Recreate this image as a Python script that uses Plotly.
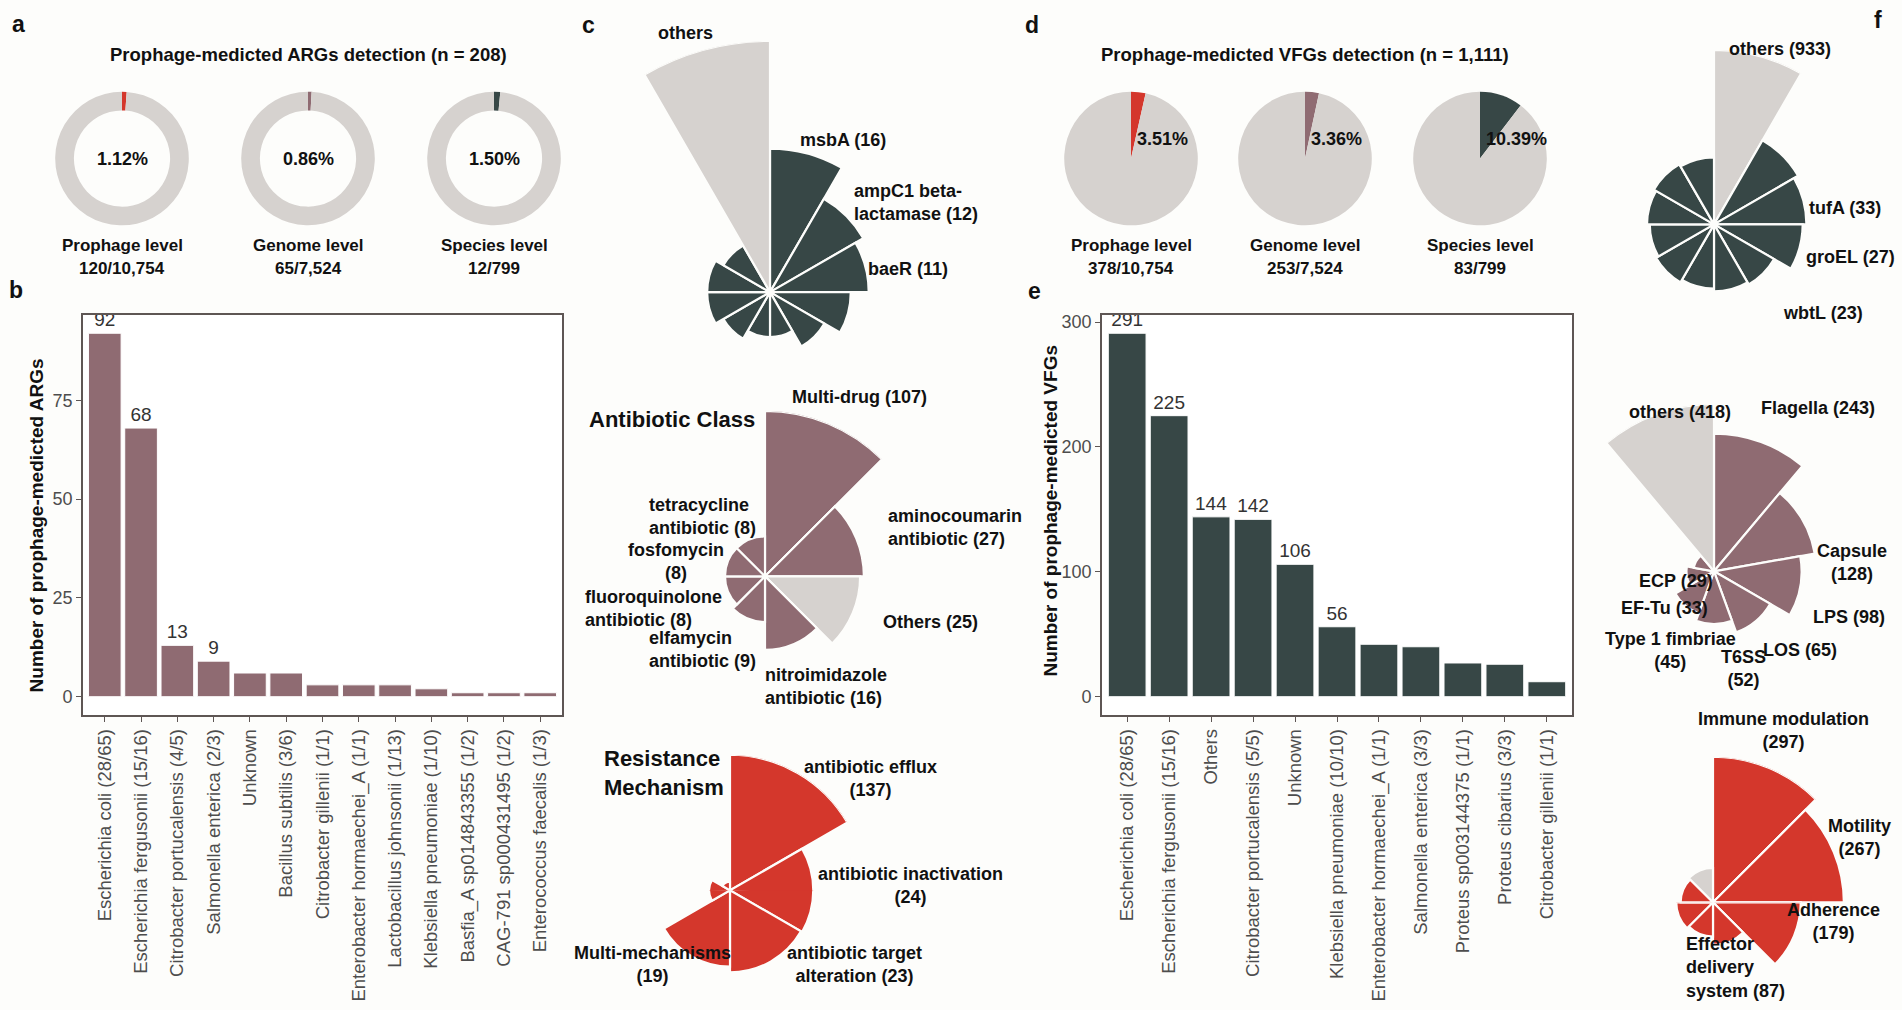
import math
import plotly.graph_objects as go

W, H = 1902, 1010
BG = "#FDFDFB"
RED = "#D4372C"
MAUVE = "#8F6B72"
DARK = "#374746"
GREY = "#D6D2CF"
AXIS = "#5E5654"
TICKTXT = "#4D4D4D"
FONT = "Arial, Liberation Sans, Helvetica, sans-serif"

# ---------------- data ----------------
level_names = ["Prophage level", "Genome level", "Species level"]
level_totals = [10754, 7524, 799]
arg_level_hits = [120, 65, 12]
vfg_level_hits = [378, 253, 83]

arg_species = [
    "Escherichia coli (28/65)", "Escherichia fergusonii (15/16)",
    "Citrobacter portucalensis (4/5)", "Salmonella enterica (2/3)", "Unknown",
    "Bacillus subtilis (3/6)", "Citrobacter gillenii (1/1)",
    "Enterobacter hormaechei_A (1/1)", "Lactobacillus johnsonii (1/13)",
    "Klebsiella pneumoniae (1/10)", "Basfia_A sp014843355 (1/2)",
    "CAG-791 sp000431495 (1/2)", "Enterococcus faecalis (1/3)",
]
arg_counts = [92, 68, 13, 9, 6, 6, 3, 3, 3, 2, 1, 1, 1]

vfg_species = [
    "Escherichia coli (28/65)", "Escherichia fergusonii (15/16)", "Others",
    "Citrobacter portucalensis (5/5)", "Unknown", "Klebsiella pneumoniae (10/10)",
    "Enterobacter hormaechei_A (1/1)", "Salmonella enterica (3/3)",
    "Proteus sp003144375 (1/1)", "Proteus cibarius (3/3)", "Citrobacter gillenii (1/1)",
]
vfg_counts = [291, 225, 144, 142, 106, 56, 42, 40, 27, 26, 12]

arg_genes = ["msbA", "ampC1 beta-lactamase", "baeR", "gene 4", "gene 5", "gene 6",
             "gene 7", "gene 8", "gene 9", "gene 10", "gene 11", "others"]
arg_gene_counts = [16, 12, 11, 9, 7, 5, 5, 6, 7, 7, 6, 28]

arg_classes = ["Multi-drug", "aminocoumarin antibiotic", "Others",
               "nitroimidazole antibiotic", "elfamycin antibiotic",
               "fluoroquinolone antibiotic", "fosfomycin", "tetracycline antibiotic"]
arg_class_counts = [107, 27, 25, 16, 9, 8, 8, 8]

arg_mechs = ["antibiotic efflux", "antibiotic inactivation",
             "antibiotic target alteration", "Multi-mechanisms",
             "other mechanism 1", "other mechanism 2"]
arg_mech_counts = [137, 24, 23, 19, 3, 2]

vfg_genes = ["others", "tufA", "groEL", "wbtL", "gene 5", "gene 6", "gene 7",
             "gene 8", "gene 9", "gene 10", "gene 11", "gene 12"]
vfg_gene_counts = [933, 33, 27, 23, 10, 9, 8, 9, 8, 9, 10, 9]

vfg_classes = ["Flagella", "Capsule", "LPS", "LOS", "T6SS", "Type 1 fimbriae",
               "EF-Tu", "ECP", "others"]
vfg_class_counts = [243, 128, 98, 65, 52, 45, 33, 29, 418]

vfg_cats = ["Immune modulation", "Motility", "Adherence", "Effector delivery system",
            "category 5", "category 6", "category 7", "others"]
vfg_cat_counts = [297, 267, 179, 87, 70, 75, 66, 70]

# ---------------- helpers ----------------
fig = go.Figure()
annotations = []
polar_layouts = {}
pcount = [0]


def X(px):
    return min(1.0, max(0.0, px / W))


def Y(py):
    return min(1.0, max(0.0, 1 - py / H))


def ann(text, px, py, size=18, bold=True, xanchor="center", align=None,
        color="#111111", angle=0):
    if align is None:
        align = {"left": "left", "right": "right"}.get(xanchor, "center")
    annotations.append(dict(
        text=text, x=X(px), y=Y(py), xref="paper", yref="paper", showarrow=False,
        xanchor=xanchor, yanchor="middle", align=align, textangle=angle,
        font=dict(size=size, color=color, family=FONT,
                  weight="bold" if bold else "normal")))


def new_polar(domx, domy, sector, scale, rng):
    pcount[0] += 1
    name = "polar" if pcount[0] == 1 else f"polar{pcount[0]}"
    polar_layouts[name] = dict(
        domain=dict(x=domx, y=domy), sector=sector, bgcolor="rgba(0,0,0,0)", hole=0,
        angularaxis=dict(visible=False, direction="clockwise", rotation=90),
        radialaxis=dict(visible=False, type=scale, range=rng))
    return name


def add_rose(names, counts, color, cx, cy, R, scale="log", r0=1.0):
    """Coxcomb: one equal-angle wedge per category, clockwise from 12 o'clock."""
    n = len(names)
    step = 360.0 / n
    theta = [(i + 0.5) * step for i in range(n)]
    cols = [GREY if nm.lower() == "others" else color for nm in names]
    vmax = max(counts)
    if scale == "log":
        lo, hi = math.log10(r0), math.log10(vmax)
        base = r0
        r = [c - r0 for c in counts]
    else:
        lo, hi = 0.0, float(vmax)
        base = 0
        r = list(counts)
    parts = []
    if cy + R <= H:
        parts.append(([cx - R, cx + R], [cy + R, cy - R], [0, 360], hi))
    else:
        # split into an upper (slightly more than half) and a lower half-disc,
        # both sharing the same radial scale, so the rose fits in the page
        ov = 2.0
        below = math.sin(math.radians(ov)) * R
        parts.append(([cx - R, cx + R], [cy + below, cy - R], [-ov, 180 + ov], hi))
        R2 = H - cy - 1
        hi2 = lo + (hi - lo) * R2 / R
        parts.append(([cx - R2, cx + R2], [cy + R2, cy], [180, 360], hi2))
    for px_x, px_y, sector, top in parts:
        name = new_polar([X(px_x[0]), X(px_x[1])], [Y(px_y[0]), Y(px_y[1])],
                         sector, scale, [lo, top])
        fig.add_trace(go.Barpolar(
            r=r, theta=theta, width=[step] * n, base=base,
            marker=dict(color=cols, line=dict(color=BG, width=2.2)),
            subplot=name, hoverinfo="skip", showlegend=False))


# ---------------- panels a & d: pies ----------------
level_colors = [RED, MAUVE, DARK]
PIE_CY, PIE_R = 156, 67
pie_cx_a = [122, 308, 494]
pie_cx_d = [1131, 1305, 1480]
for i in range(3):
    for cxs, hits, hole in ((pie_cx_a, arg_level_hits, 0.72), (pie_cx_d, vfg_level_hits, 0)):
        cx = cxs[i]
        fig.add_trace(go.Pie(
            values=[hits[i], level_totals[i] - hits[i]],
            domain=dict(x=[X(cx - PIE_R), X(cx + PIE_R)], y=[Y(PIE_CY + PIE_R), Y(PIE_CY - PIE_R)]),
            hole=hole, sort=False, direction="counterclockwise", rotation=0,
            marker=dict(colors=[level_colors[i], GREY], line=dict(width=0)),
            textinfo="none", hoverinfo="skip", showlegend=False))
        pct = 100.0 * hits[i] / level_totals[i]
        if hole > 0:
            ann(f"{pct:.2f}%", cx, PIE_CY, size=18)
        else:
            ann(f"{pct:.2f}%", cx + 4, 136, size=18, xanchor="left")
        ann(level_names[i], cx, 243, size=17)
        ann(f"{hits[i]}/{level_totals[i]:,}", cx, 266, size=17)

ann(f"Prophage-medicted ARGs detection (n = {sum(arg_counts)})", 308, 52, size=18.5)
ann(f"Prophage-medicted VFGs detection (n = {sum(vfg_counts):,})", 1305, 52, size=18.5)

# ---------------- panels b & e: bars ----------------
fig.add_trace(go.Bar(
    x=arg_species, y=arg_counts, width=0.9,
    marker=dict(color=MAUVE, line=dict(color="white", width=1)),
    text=[str(v) if v >= 9 else "" for v in arg_counts], textposition="outside",
    textfont=dict(size=19, color="#333333", family=FONT), cliponaxis=False,
    constraintext="none", xaxis="x", yaxis="y", hoverinfo="skip", showlegend=False))
fig.add_trace(go.Bar(
    x=vfg_species, y=vfg_counts, width=0.9,
    marker=dict(color=DARK, line=dict(color="white", width=1)),
    text=[str(v) if v >= 50 else "" for v in vfg_counts], textposition="outside",
    textfont=dict(size=19, color="#333333", family=FONT), cliponaxis=False,
    constraintext="none", xaxis="x2", yaxis="y2", hoverinfo="skip", showlegend=False))

axis_common = dict(showline=True, linecolor=AXIS, linewidth=1.6, mirror=True,
                   ticks="outside", ticklen=5, tickwidth=1.4, tickcolor=AXIS,
                   showgrid=False, zeroline=False, fixedrange=True,
                   tickfont=dict(size=18, color=TICKTXT, family=FONT))
BOX_TOP, BOX_BOT = 313, 714
XTICKFONT = dict(size=18.5, color=TICKTXT, family=FONT)


def ypad(vmax):
    return [-0.05 * vmax, 1.05 * vmax]


xa = dict(axis_common, domain=[X(83), X(562)], anchor="y", type="category",
          range=[-0.6, len(arg_species) - 0.4], tickmode="array",
          tickvals=arg_species, ticktext=arg_species, tickangle=-90, tickfont=XTICKFONT)
ya = dict(axis_common, domain=[Y(BOX_BOT), Y(BOX_TOP)], anchor="x",
          range=ypad(max(arg_counts)), tickmode="array", tickvals=[0, 25, 50, 75])
xa2 = dict(axis_common, domain=[X(1102), X(1572)], anchor="y2", type="category",
           range=[-0.6, len(vfg_species) - 0.4], tickmode="array",
           tickvals=vfg_species, ticktext=vfg_species, tickangle=-90, tickfont=XTICKFONT)
ya2 = dict(axis_common, domain=[Y(BOX_BOT), Y(BOX_TOP)], anchor="x2",
           range=ypad(max(vfg_counts)), tickmode="array", tickvals=[0, 100, 200, 300])

ann("Number of prophage-medicted ARGs", 36, 524, size=19, angle=-90)
ann("Number of prophage-medicted VFGs", 1050, 510, size=19, angle=-90)

# ---------------- panel c: roses ----------------
add_rose(arg_genes, arg_gene_counts, DARK, 770, 290, 252, scale="linear")
add_rose(arg_classes, arg_class_counts, MAUVE, 765, 575, 166, scale="log", r0=3.5)
add_rose(arg_mechs, arg_mech_counts, RED, 730, 890, 136, scale="log", r0=1.5)

ann("others", 685, 30)
ann("msbA (16)", 798, 137, xanchor="left")
ann("ampC1 beta-<br>lactamase (12)", 852, 200, xanchor="left")
ann("baeR (11)", 866, 267, xanchor="left")

ann("Antibiotic Class", 757, 418, size=22, xanchor="right")
ann("Multi-drug (107)", 790, 395, xanchor="left")
ann("aminocoumarin<br>antibiotic (27)", 886, 526, xanchor="left")
ann("Others (25)", 881, 621, xanchor="left")
ann("nitroimidazole<br>antibiotic (16)", 763, 686, xanchor="left")
ann("elfamycin<br>antibiotic (9)", 647, 648, xanchor="left")
ann("fluoroquinolone<br>antibiotic (8)", 583, 607, xanchor="left")
ann("fosfomycin<br>(8)", 676, 560)
ann("tetracycline<br>antibiotic (8)", 647, 515, xanchor="left")

ann("Resistance<br>Mechanism", 602, 772, size=22, xanchor="left")
ann("antibiotic efflux<br>(137)", 870, 778)
ann("antibiotic inactivation<br>(24)", 910, 885)
ann("antibiotic target<br>alteration (23)", 854, 964)
ann("Multi-mechanisms<br>(19)", 652, 964)

# ---------------- panel f: roses ----------------
add_rose(vfg_genes, vfg_gene_counts, DARK, 1714, 222, 175, scale="log", r0=0.5)
add_rose(vfg_classes, vfg_class_counts, MAUVE, 1714, 570, 168, scale="log", r0=20.0)
add_rose(vfg_cats, vfg_cat_counts, RED, 1713, 902, 146, scale="linear")

ann("others (933)", 1780, 46)
ann("tufA (33)", 1807, 206, xanchor="left")
ann("groEL (27)", 1804, 255, xanchor="left")
ann("wbtL (23)", 1781, 311, xanchor="left")

ann("others (418)", 1680, 410)
ann("Flagella (243)", 1759, 406, xanchor="left")
ann("Capsule<br>(128)", 1852, 561)
ann("LPS (98)", 1811, 616, xanchor="left")
ann("LOS (65)", 1761, 649, xanchor="left")
ann("T6SS<br>(52)", 1743, 667)
ann("Type 1 fimbriae<br>(45)", 1670, 649)
ann("EF-Tu (33)", 1664, 607)
ann("ECP (29)", 1676, 580)

ann("Immune modulation<br>(297)", 1783, 730)
ann("Motility<br>(267)", 1859, 837)
ann("Adherence<br>(179)", 1833, 921)
ann("Effector<br>delivery<br>system (87)", 1684, 967, xanchor="left")

# ---------------- panel letters ----------------
for letter, px, py in (("a", 10, 21), ("b", 7, 288), ("c", 580, 22),
                       ("d", 1023, 22), ("e", 1026, 289), ("f", 1872, 17)):
    ann(letter, px, py, size=23, xanchor="left")

fig.update_layout(
    width=W, height=H, autosize=False,
    margin=dict(l=0, r=0, t=0, b=0, pad=0),
    paper_bgcolor=BG, plot_bgcolor="#FFFFFF",
    font=dict(family=FONT, color="#111111"),
    xaxis=xa, yaxis=ya, xaxis2=xa2, yaxis2=ya2,
    annotations=annotations, showlegend=False,
    **polar_layouts,
)

fig.write_html(
    "out.html",
    config={"displayModeBar": False},
    post_script=("document.documentElement.style.margin='0';"
                 "document.body.style.margin='0';"
                 "document.body.style.overflow='hidden';"
                 "document.documentElement.style.overflow='hidden';"),
)
